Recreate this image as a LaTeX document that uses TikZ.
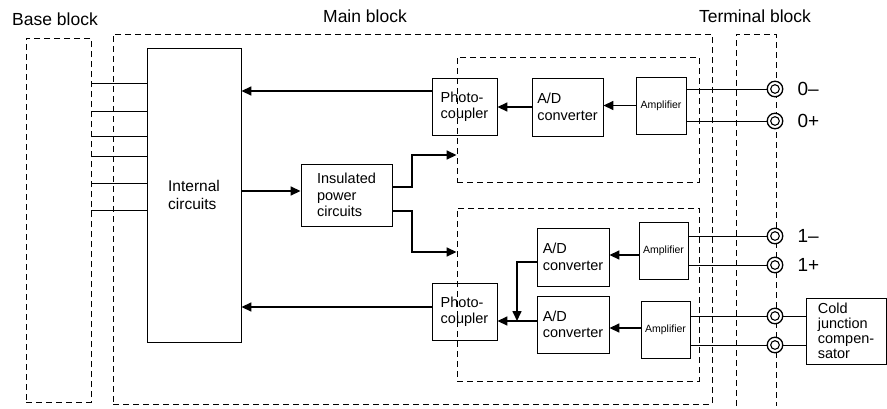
\documentclass[tikz,border=0pt]{standalone}
\usepackage{fontspec}
\setmainfont{Liberation Sans}
\usetikzlibrary{calc,shapes,arrows.meta,positioning}
\tikzstyle{every picture}=[->,>={Triangle[length=10pt,width=9pt]}]
\tikzstyle{blk}=[draw,line width=0.9pt,inner sep=2pt,align=left,font=\fontsize{14.5}{16.5}\selectfont]
\tikzstyle{amp}=[blk,font=\fontsize{10.5}{12}\selectfont]
\tikzstyle{frame}=[-,draw,dash pattern=on 6pt off 4pt,line width=0.9pt]
\tikzstyle{flow}=[line width=1.6pt]
\tikzstyle{wire}=[-,line width=0.9pt]
\tikzstyle{term}=[circle,draw,fill=white,line width=1.3pt,minimum size=15.5pt,inner sep=0pt]
\tikzstyle{lbl}=[inner sep=0pt,font=\fontsize{17.5}{20}\selectfont]
\tikzstyle{tlbl}=[inner sep=0pt,font=\fontsize{19}{22}\selectfont]

\begin{document}
\begin{tikzpicture}[x=1pt,y=-1pt]
    \useasboundingbox (0,0) rectangle (887,408);

    % Block titles
    \node[lbl,anchor=base] (tb) at (55,25) {Base block};
    \node[lbl,anchor=base] (tm) at (365,22.7) {Main block};
    \node[lbl,anchor=base] (tt) at (755,22.7) {Terminal block};

    % Dashed frames
    \node[frame,minimum width=65pt,minimum height=364pt] (bb) at (58.5,220) {};
    \node[frame,minimum width=599pt,minimum height=370pt] (mb) at (412.5,219) {};
    \node[frame,minimum width=242pt,minimum height=125pt] (ch0) at (578,119.5) {};
    \node[frame,minimum width=242pt,minimum height=173pt] (ch1) at (578,294.5) {};
    \draw[frame] (736,406) |- (776,34) -- (776,406);

    % Main blocks
    \node[blk,minimum width=94pt,minimum height=294pt,font=\fontsize{15.5}{18}\selectfont] (ic) at (194,195) {Internal\\circuits};
    \node[blk,minimum width=91pt,minimum height=62pt] (ipc) at (346.5,195) {Insulated\\power\\circuits};

    % Channel 0
    \node[blk,minimum width=65pt,minimum height=57pt] (pc1) at (464.5,106.5) {Photo-\\coupler};
    \node[blk,minimum width=71pt,minimum height=58pt] (ad1) at (567.5,107) {A/D\\converter};
    \node[amp,minimum width=50pt,minimum height=57pt] (amp1) at (661,105.5) {Amplifier};

    % Channel 1 and cold junction
    \node[blk,minimum width=65pt,minimum height=57pt] (pc2) at (464.5,311.5) {Photo-\\coupler};
    \node[blk,minimum width=72pt,minimum height=58pt] (ad2) at (573,257) {A/D\\converter};
    \node[blk,minimum width=72pt,minimum height=57pt] (ad3) at (573,324.5) {A/D\\converter};
    \node[amp,minimum width=49pt,minimum height=57pt] (amp2) at (663.5,250.5) {Amplifier};
    \node[amp,minimum width=49pt,minimum height=57pt] (amp3) at (665.5,329.5) {Amplifier};
    \node[blk,minimum width=80pt,minimum height=66pt,font=\fontsize{14.5}{15}\selectfont] (cjc) at (846,331) {Cold\\junction\\compen-\\sator};

    % Terminals
    \node[term] (t0m) at (775,89) {};
    \node[term] (t0p) at (775,121) {};
    \node[term] (t1m) at (775,236) {};
    \node[term] (t1p) at (775,265) {};
    \node[term] (tc1) at (775,316) {};
    \node[term] (tc2) at (775,345) {};
    \foreach \t in {t0m,t0p,t1m,t1p,tc1,tc2}
        \draw[wire,line width=1.1pt] (\t.center) circle (4.3pt);

    \node[tlbl,right=14pt of t0m] (l0m) {0–};
    \node[tlbl,right=14pt of t0p] (l0p) {0+};
    \node[tlbl,right=14pt of t1m] (l1m) {1–};
    \node[tlbl,right=14pt of t1p] (l1p) {1+};

    % Bus lines from base block
    \foreach \y in {83,111,136,156,183,210}
        \draw[wire] (bb.east |- 0,\y) -- (ic.west |- 0,\y);

    % Helper coordinates
    \coordinate (s1) at (0,91);
    \coordinate (s2) at (0,191);
    \coordinate (s4) at (0,307);
    \coordinate (s5) at (0,321);
    \coordinate (s6) at (0,262);
    \coordinate (s7) at (0,255);
    \coordinate (s8) at (0,328);
    \coordinate (k1) at (412,155);
    \coordinate (k2) at (412,252);
    \coordinate (k3) at (517,321);

    % Signal arrows
    \draw[flow] (pc1.west |- s1) -- (ic.east |- s1);
    \draw[flow] (ad1.west) -- (ad1.west -| pc1.east);
    \draw[flow] (amp1.west) -- (amp1.west -| ad1.east);
    \draw[flow] (ic.east |- s2) -- (ipc.west |- s2);
    \draw[flow] ([yshift=8pt]ipc.east) -| (k1) -- (k1 -| ch0.west);
    \draw[flow] ([yshift=-16pt]ipc.east) -| (k2) -- (k2 -| ch1.west);
    \draw[flow] (pc2.west |- s4) -- (ic.east |- s4);
    \draw[flow] (ad3.west |- s5) -- (pc2.east |- s5);
    \draw[flow] (ad2.west |- s6) -| (k3);
    \draw[flow] (amp2.west |- s7) -- (ad2.east |- s7);
    \draw[flow] (amp3.west |- s8) -- (ad3.east |- s8);

    % Wires to terminals
    \draw[wire] (t0m.west) -- (t0m.west -| amp1.east);
    \draw[wire] (t0p.west) -- (t0p.west -| amp1.east);
    \draw[wire] (t1m.west) -- (t1m.west -| amp2.east);
    \draw[wire] (t1p.west) -- (t1p.west -| amp2.east);
    \draw[wire] (tc1.west) -- (tc1.west -| amp3.east);
    \draw[wire] (tc2.west) -- (tc2.west -| amp3.east);
    \draw[wire] (tc1.east) -- (tc1.east -| cjc.west);
    \draw[wire] (tc2.east) -- (tc2.east -| cjc.west);

\end{tikzpicture}
\end{document}
